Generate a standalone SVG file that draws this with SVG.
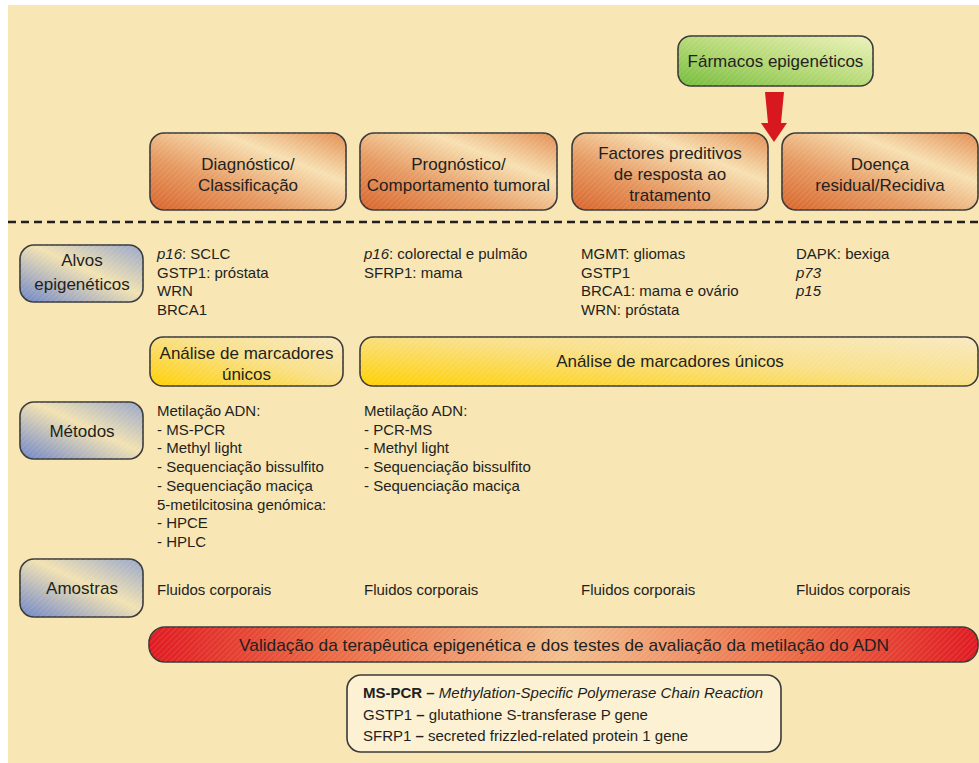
<svg xmlns="http://www.w3.org/2000/svg" width="979" height="763" viewBox="0 0 979 763">
  <defs>
    <linearGradient id="gOrange" x1="0" y1="1" x2="1" y2="0">
      <stop offset="0" stop-color="#D8652C"/>
      <stop offset="0.35" stop-color="#E69A62"/>
      <stop offset="0.68" stop-color="#F7E0B2"/>
      <stop offset="1" stop-color="#E38D52"/>
    </linearGradient>
    <linearGradient id="gBlue" x1="0" y1="1" x2="1" y2="0">
      <stop offset="0" stop-color="#6E85C8"/>
      <stop offset="0.55" stop-color="#F2E2B2"/>
      <stop offset="1" stop-color="#97A6CA"/>
    </linearGradient>
    <linearGradient id="gYellow" x1="0" y1="1" x2="1" y2="0">
      <stop offset="0" stop-color="#FFD000"/>
      <stop offset="0.55" stop-color="#F9E08A"/>
      <stop offset="1" stop-color="#F8E9C2"/>
    </linearGradient>
    <linearGradient id="gRed" x1="0" y1="0" x2="1" y2="0">
      <stop offset="0" stop-color="#E01B22"/>
      <stop offset="0.22" stop-color="#EA6A45"/>
      <stop offset="0.5" stop-color="#F3BE8E"/>
      <stop offset="0.78" stop-color="#EA6A45"/>
      <stop offset="1" stop-color="#E01B22"/>
    </linearGradient>
    <linearGradient id="gGreen" x1="0" y1="1" x2="1" y2="0">
      <stop offset="0" stop-color="#76BC3C"/>
      <stop offset="0.5" stop-color="#B7DA78"/>
      <stop offset="1" stop-color="#EEF2BC"/>
    </linearGradient>
    <pattern id="hatch" patternUnits="userSpaceOnUse" width="4" height="4" patternTransform="rotate(45)">
      <line x1="0" y1="0" x2="0" y2="4" stroke="#FFFFFF" stroke-width="1.2" stroke-opacity="0.18"/>
    </pattern>
    <style>
      text { font-family: "Liberation Sans", Arial, sans-serif; fill: #231F20; }
      .lbl { font-size: 17px; text-anchor: middle; }
      .body { font-size: 15px; }
      .it { font-style: italic; }
      .box { stroke: #3A3A3A; stroke-width: 1.6; }
      .hatch { fill: url(#hatch); stroke: none; }
    </style>
  </defs>

  <!-- panel background -->
  <rect x="0" y="0" width="979" height="763" fill="#FFFFFF"/>
  <rect x="8" y="5" width="971" height="758" fill="#F8E6B5"/>

  <!-- drug node -->
  <g id="farmacos">
    <rect class="box" x="678" y="36" width="195" height="50" rx="13" fill="url(#gGreen)"/>
    <rect class="hatch" x="678" y="36" width="195" height="50" rx="13"/>
    <text class="lbl" x="775.5" y="67">Fármacos epigenéticos</text>
  </g>

  <!-- stage nodes -->
  <g id="diagnostico">
    <rect class="box" x="150" y="133" width="196" height="77" rx="14" fill="url(#gOrange)"/>
    <rect class="hatch" x="150" y="133" width="196" height="77" rx="14"/>
    <text class="lbl" x="248" y="170">Diagnóstico/</text>
    <text class="lbl" x="248" y="191">Classificação</text>
  </g>
  <g id="prognostico">
    <rect class="box" x="360" y="133" width="197" height="77" rx="14" fill="url(#gOrange)"/>
    <rect class="hatch" x="360" y="133" width="197" height="77" rx="14"/>
    <text class="lbl" x="458.5" y="170">Prognóstico/</text>
    <text class="lbl" x="458.5" y="191">Comportamento tumoral</text>
  </g>
  <g id="factores">
    <rect class="box" x="572" y="133" width="196" height="77" rx="14" fill="url(#gOrange)"/>
    <rect class="hatch" x="572" y="133" width="196" height="77" rx="14"/>
    <text class="lbl" x="670" y="159">Factores preditivos</text>
    <text class="lbl" x="670" y="180">de resposta ao</text>
    <text class="lbl" x="670" y="201">tratamento</text>
  </g>
  <g id="doenca">
    <rect class="box" x="782" y="133" width="196" height="77" rx="14" fill="url(#gOrange)"/>
    <rect class="hatch" x="782" y="133" width="196" height="77" rx="14"/>
    <text class="lbl" x="880" y="170">Doença</text>
    <text class="lbl" x="880" y="191">residual/Recidiva</text>
  </g>

  <!-- connectors -->
  <g id="connectors">
    <polygon points="765,92 784,92 781,123 787,123 774,142 761,123 768,123" fill="#D7191F"/>
    <line x1="8" y1="222" x2="979" y2="222" stroke="#231F20" stroke-width="2.6" stroke-dasharray="8 5"/>
  </g>

  <!-- row: epigenetic targets -->
  <g id="alvos">
    <rect class="box" x="20" y="245" width="123" height="57" rx="14" fill="url(#gBlue)"/>
    <rect class="hatch" x="20" y="245" width="123" height="57" rx="14"/>
    <text class="lbl" x="82" y="266">Alvos</text>
    <text class="lbl" x="82" y="290">epigenéticos</text>
  </g>
  <g id="alvos-texto" class="body">
    <text x="157" y="259"><tspan class="it">p16</tspan>: SCLC</text>
    <text x="157" y="278">GSTP1: próstata</text>
    <text x="157" y="296">WRN</text>
    <text x="157" y="315">BRCA1</text>

    <text x="364" y="259"><tspan class="it">p16</tspan>: colorectal e pulmão</text>
    <text x="364" y="278">SFRP1: mama</text>

    <text x="581" y="259">MGMT: gliomas</text>
    <text x="581" y="278">GSTP1</text>
    <text x="581" y="296">BRCA1: mama e ovário</text>
    <text x="581" y="315">WRN: próstata</text>

    <text x="796" y="259">DAPK: bexiga</text>
    <text x="796" y="278" class="it">p73</text>
    <text x="796" y="296" class="it">p15</text>
  </g>

  <!-- single-marker analysis -->
  <g id="analise-1">
    <rect class="box" x="150" y="337" width="193" height="49" rx="13" fill="url(#gYellow)"/>
    <rect class="hatch" x="150" y="337" width="193" height="49" rx="13"/>
    <text class="lbl" x="246.5" y="359">Análise de marcadores</text>
    <text class="lbl" x="246.5" y="380">únicos</text>
  </g>
  <g id="analise-2">
    <rect class="box" x="360" y="337" width="618" height="49" rx="13" fill="url(#gYellow)"/>
    <rect class="hatch" x="360" y="337" width="618" height="49" rx="13"/>
    <text class="lbl" x="670" y="367">Análise de marcadores únicos</text>
  </g>

  <!-- row: methods -->
  <g id="metodos">
    <rect class="box" x="20" y="402" width="123" height="57" rx="14" fill="url(#gBlue)"/>
    <rect class="hatch" x="20" y="402" width="123" height="57" rx="14"/>
    <text class="lbl" x="82" y="437">Métodos</text>
  </g>
  <g id="metodos-texto" class="body">
    <text x="157" y="416">Metilação ADN:</text>
    <text x="157" y="435">- MS-PCR</text>
    <text x="157" y="453">- Methyl light</text>
    <text x="157" y="472">- Sequenciação bissulfito</text>
    <text x="157" y="491">- Sequenciação maciça</text>
    <text x="157" y="510">5-metilcitosina genómica:</text>
    <text x="157" y="528">- HPCE</text>
    <text x="157" y="547">- HPLC</text>

    <text x="364" y="416">Metilação ADN:</text>
    <text x="364" y="435">- PCR-MS</text>
    <text x="364" y="453">- Methyl light</text>
    <text x="364" y="472">- Sequenciação bissulfito</text>
    <text x="364" y="491">- Sequenciação maciça</text>
  </g>

  <!-- row: samples -->
  <g id="amostras">
    <rect class="box" x="20" y="559" width="123" height="58" rx="14" fill="url(#gBlue)"/>
    <rect class="hatch" x="20" y="559" width="123" height="58" rx="14"/>
    <text class="lbl" x="82" y="594">Amostras</text>
  </g>
  <g id="amostras-texto" class="body">
    <text x="157" y="595">Fluidos corporais</text>
    <text x="364" y="595">Fluidos corporais</text>
    <text x="581" y="595">Fluidos corporais</text>
    <text x="796" y="595">Fluidos corporais</text>
  </g>

  <!-- validation bar -->
  <g id="validacao">
    <rect class="box" x="149" y="627" width="829" height="35" rx="16" fill="url(#gRed)"/>
    <rect class="hatch" x="149" y="627" width="829" height="35" rx="16"/>
    <text class="lbl" x="564" y="651" textLength="650" lengthAdjust="spacingAndGlyphs">Validação da terapêutica epigenética e dos testes de avaliação da metilação do ADN</text>
  </g>

  <!-- abbreviations -->
  <g id="legenda">
    <rect class="box" x="347" y="675" width="434" height="77" rx="14" fill="#FCF1D3"/>
    <text class="body" x="363" y="698"><tspan font-weight="bold">MS-PCR –</tspan> <tspan class="it">Methylation-Specific Polymerase Chain Reaction</tspan></text>
    <text class="body" x="363" y="720">GSTP1 <tspan font-weight="bold">–</tspan> glutathione S-transferase P gene</text>
    <text class="body" x="363" y="741">SFRP1 <tspan font-weight="bold">–</tspan> secreted frizzled-related protein 1 gene</text>
  </g>
</svg>
